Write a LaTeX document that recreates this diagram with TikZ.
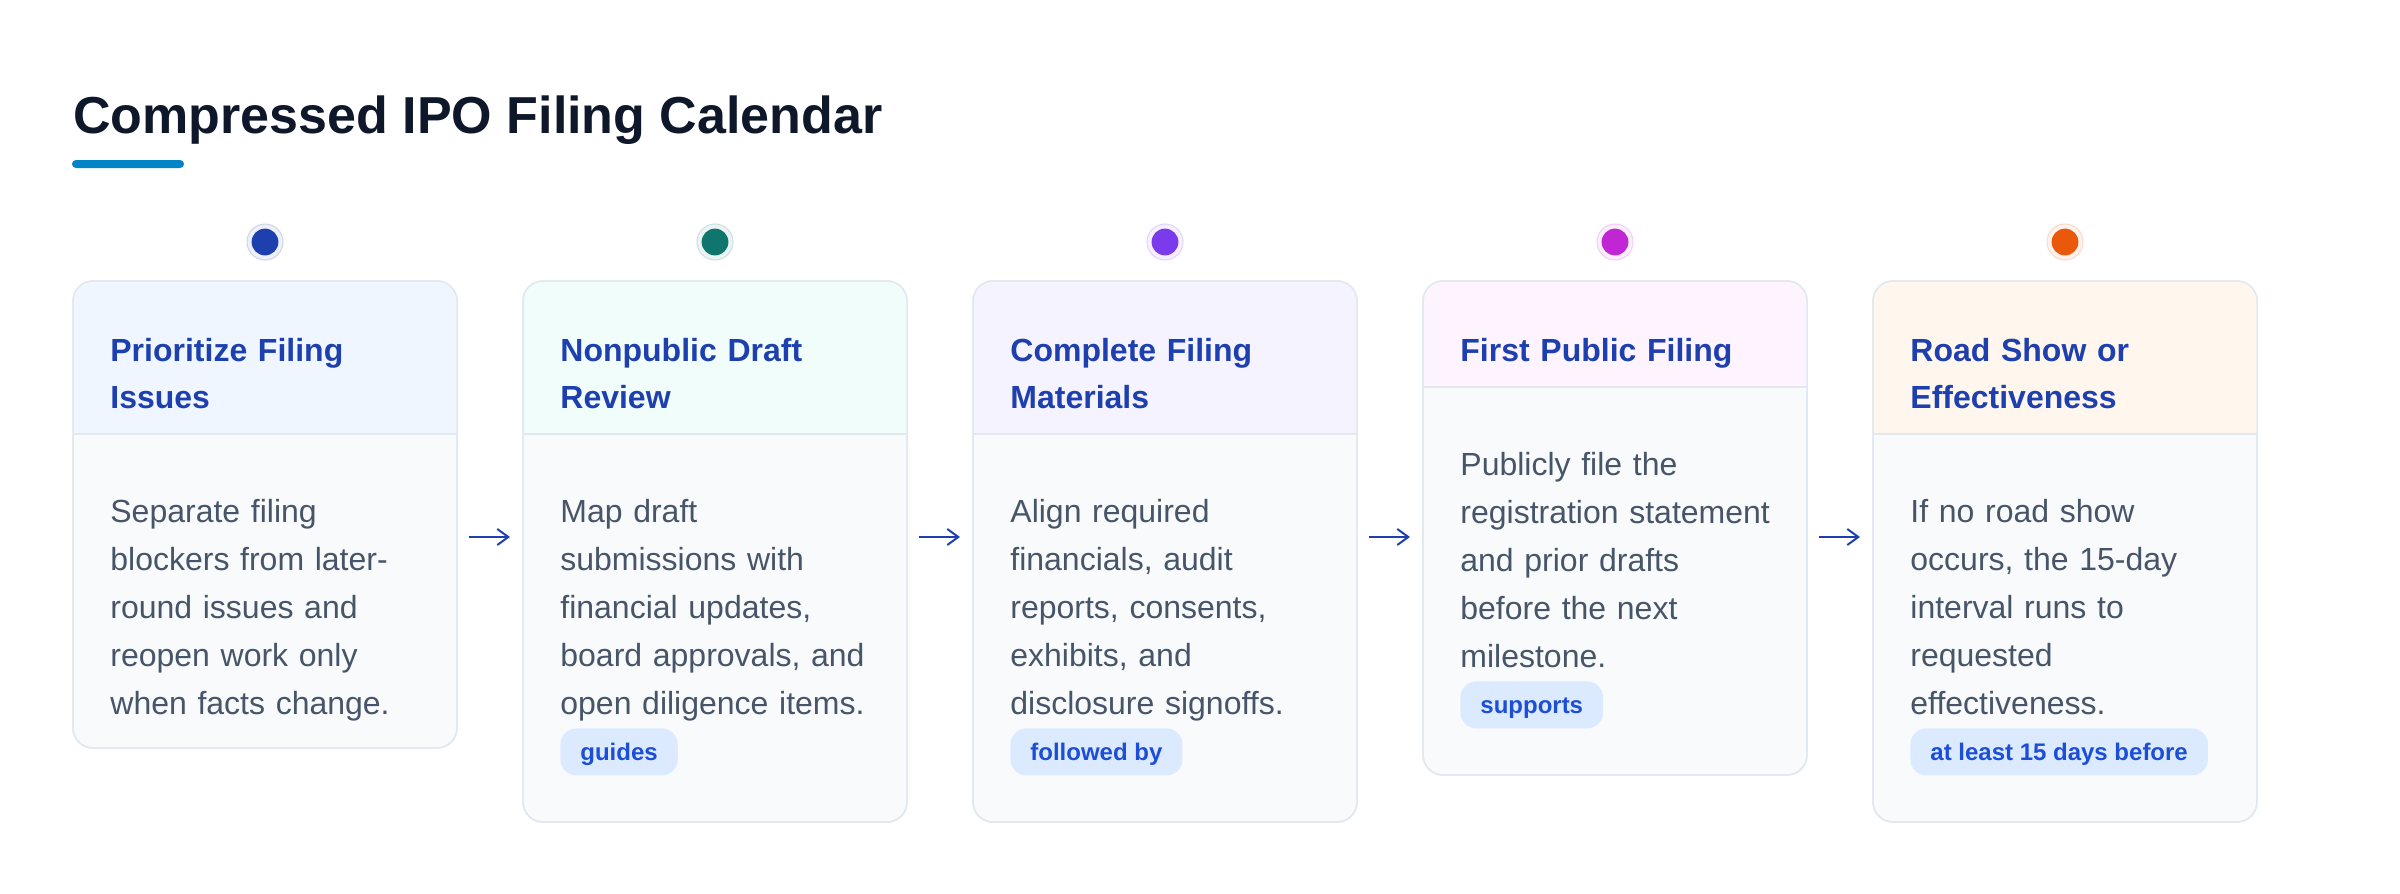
\documentclass[tikz,border=0pt]{standalone}
\usepackage{fontspec}
\setmainfont{Liberation Sans}
\usetikzlibrary{arrows.meta}
\definecolor{titlec}{HTML}{0F172A}
\definecolor{barc}{HTML}{0284C7}
\definecolor{hdrtext}{HTML}{1E40AF}
\definecolor{bodytext}{HTML}{475569}
\definecolor{cardbg}{HTML}{F8FAFC}
\definecolor{cardline}{HTML}{E2E8F0}
\definecolor{badgebg}{HTML}{DBEAFE}
\definecolor{badgetext}{HTML}{1D4ED8}
\definecolor{arrowc}{HTML}{1E40AF}
\definecolor{hA}{HTML}{EFF6FF}\definecolor{dA}{HTML}{1E40AF}
\definecolor{hB}{HTML}{F0FDFA}\definecolor{dB}{HTML}{0F766E}
\definecolor{hC}{HTML}{F5F3FF}\definecolor{dC}{HTML}{7C3AED}
\definecolor{hD}{HTML}{FDF4FF}\definecolor{dD}{HTML}{C026D3}
\definecolor{hE}{HTML}{FFF7ED}\definecolor{dE}{HTML}{EA580C}
% #1 name, #2 left x, #3 header bottom y, #4 card bottom y, #5 header fill, #6 dot colour, #7 title, #8 body
\newcommand{\ipocard}[8]{%
  \node[dotring, fill=#6!8, draw=#6!22] (#1r) at (#2+192,242) {};
  \node[dotcore, fill=#6] (#1d) at (#2+192,242) {};
  \node[cardbox, minimum height={(#4-281)*0.5pt}] (#1) at (#2+192,{(281+#4)/2}) {};
  \coordinate (#1h) at (#2,#3);
  \begin{scope}
    \clip[rounded corners=10pt] (#1.north west) rectangle (#1.south east);
    \fill[#5] (#1.north west) rectangle (#1.east |- #1h);
  \end{scope}
  \draw[cardline, line width=0.75pt] (#1.west |- #1h) -- (#1.east |- #1h);
  \draw[cardline, line width=0.75pt, rounded corners=10pt] (#1.north west) rectangle (#1.south east);
  \node[hdrtxt] (#1t) at (#2+37,361) {#7};
  \node[bodytxt] (#1b) at (#2+37,#3+88) {#8};
}
\begin{document}
\begin{tikzpicture}[x=0.5pt,y=-0.5pt,
  cardbox/.style={draw=cardline, line width=0.75pt, fill=cardbg, rounded corners=10pt, minimum width=192pt, outer sep=0pt, inner sep=0pt},
  hdrtxt/.style={anchor=base west, inner sep=0pt, text=hdrtext, font=\fontsize{16pt}{23.5pt}\selectfont\bfseries, text width=180pt, align=left},
  bodytxt/.style={anchor=base west, inner sep=0pt, text=bodytext, font=\fontsize{16pt}{24pt}\selectfont, text width=180pt, align=left},
  badge/.style={anchor=north west, fill=badgebg, text=badgetext, rounded corners=8pt, font=\fontsize{12pt}{14pt}\selectfont\bfseries, minimum height=23.5pt, inner xsep=10pt, inner ysep=0pt, text height=8.6pt, text depth=0pt},
  dotring/.style={circle, minimum size=18pt, inner sep=0pt, line width=0.5pt},
  dotcore/.style={circle, minimum size=13.4pt, inner sep=0pt},
  flow/.style={draw=arrowc, line width=1pt, -{Straight Barb[length=5.5pt,width=8pt,line width=1pt]}, shorten <=6pt, shorten >=6.5pt}
]
\fill[white] (0,0) rectangle (2400,894);
\useasboundingbox (0,0) rectangle (2400,894);

\node[anchor=base west, inner sep=0pt, text=titlec, font=\fontsize{26pt}{30pt}\selectfont\bfseries] (title) at (73,133) {Compressed IPO Filing Calendar};
\fill[barc, rounded corners=2pt] (72,160) rectangle (184,168);

\ipocard{c1}{73}{434}{748}{hA}{dA}{Prioritize Filing\\Issues}{Separate filing\\blockers from later-\\round issues and\\reopen work only\\when facts change.}
\ipocard{c2}{523}{434}{822}{hB}{dB}{Nonpublic Draft\\Review}{Map draft\\submissions with\\financial updates,\\board approvals, and\\open diligence items.}
\ipocard{c3}{973}{434}{822}{hC}{dC}{Complete Filing\\Materials}{Align required\\financials, audit\\reports, consents,\\exhibits, and\\disclosure signoffs.}
\ipocard{c4}{1423}{387}{775}{hD}{dD}{First Public Filing}{Publicly file the\\registration statement\\and prior drafts\\before the next\\milestone.}
\ipocard{c5}{1873}{434}{822}{hE}{dE}{Road Show or\\Effectiveness}{If no road show\\occurs, the 15-day\\interval runs to\\requested\\effectiveness.}

\node[badge] (g2) at (560,728) {guides};
\node[badge] (g3) at (1010,728) {followed by};
\node[badge] (g4) at (1460,681) {supports};
\node[badge] (g5) at (1910,728) {at least 15 days before};

\coordinate (arow) at (0,537);
\draw[flow] (c1.east |- arow) -- (c2.west |- arow);
\draw[flow] (c2.east |- arow) -- (c3.west |- arow);
\draw[flow] (c3.east |- arow) -- (c4.west |- arow);
\draw[flow] (c4.east |- arow) -- (c5.west |- arow);
\end{tikzpicture}
\end{document}
